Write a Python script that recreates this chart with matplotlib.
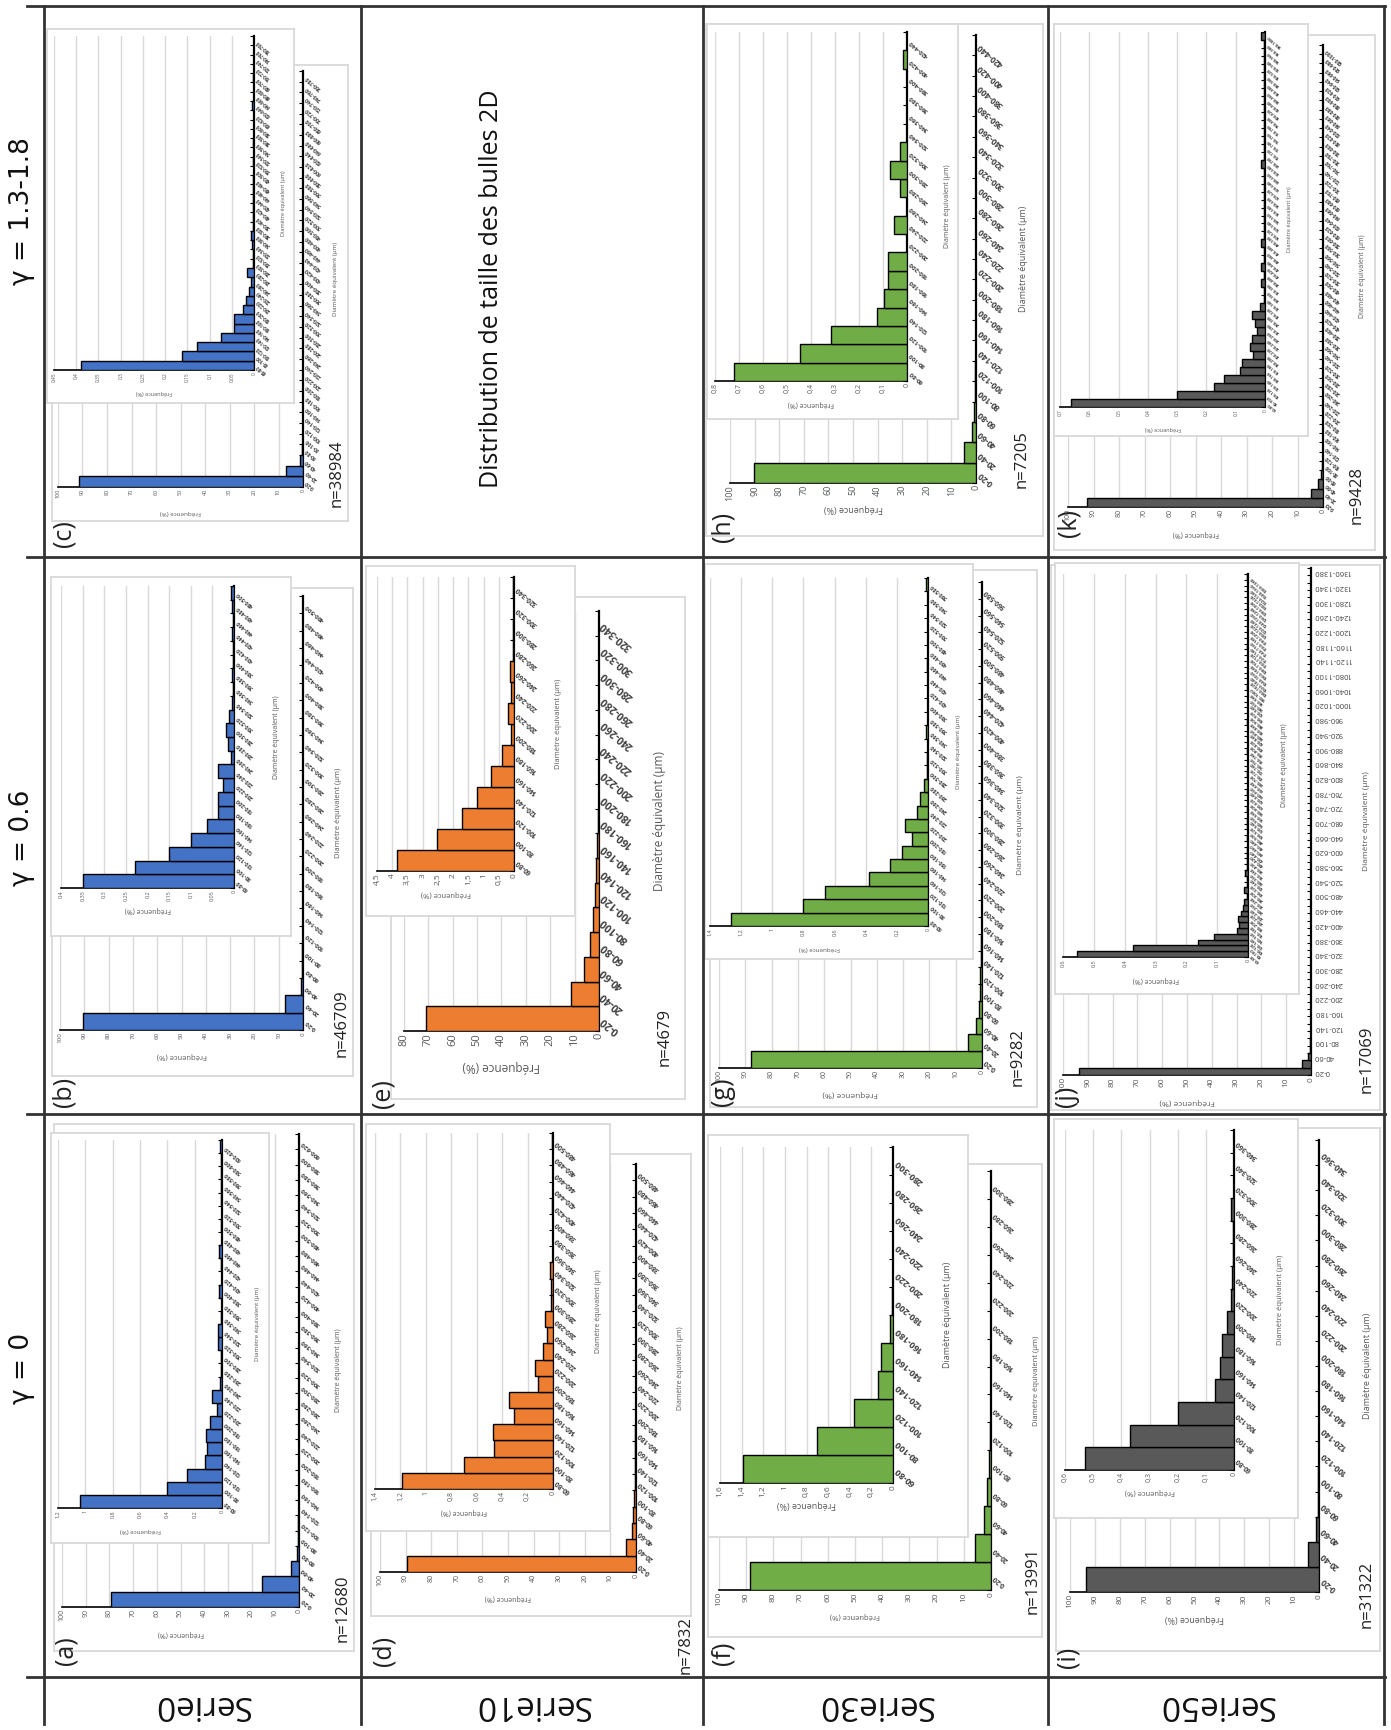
import numpy as np
import matplotlib
matplotlib.use('Agg')
import matplotlib.pyplot as plt
from matplotlib.lines import Line2D
from matplotlib.transforms import offset_copy

plt.rcParams['font.family'] = ['Open Sans', 'DejaVu Sans']

W, H = 1391, 1730

blue = '#4472C4'
orange = '#ED7D31'
green = '#70AD47'
grey = '#595959'


def bin_labels(n):
    return ['%d-%d' % (20 * i, 20 * i + 20) for i in range(n)]


# ---------------- data (frequency in %, bins of 20 µm starting at 0-20)
a_vals = [79.5, 15.6, 3.3, 1.04, 0.40, 0.256, 0.122, 0.11, 0.12, 0.085, 0.037, 0.073, 0.012, 0.006,
          0.004, 0.03, 0.03, 0.004, 0.003, 0.024, 0.003, 0.004, 0.022, 0.003, 0.004, 0.003, 0.005,
          0.004, 0.006, 0.005, 0.012]
b_vals = [90.5, 7.4, 1.0, 0.348, 0.228, 0.15, 0.10, 0.062, 0.036, 0.038, 0.025, 0.038, 0.008, 0.015,
          0.019, 0.012, 0.004, 0.002, 0.004, 0.002, 0.002, 0.004, 0.002, 0.004, 0.008]
c_vals = [91.4, 6.8, 1.1, 0.39, 0.163, 0.128, 0.075, 0.045, 0.045, 0.025, 0.017, 0.011, 0.0075, 0.015,
          0.002, 0.002, 0.005, 0.0075, 0.003, 0.003, 0.002, 0.003, 0.002, 0.002, 0.001, 0.002, 0.001,
          0.002, 0.001, 0.001, 0.001, 0.005, 0.001, 0.001, 0.002, 0.001, 0.001, 0.001, 0.001]
d_vals = [89.3, 3.9, 1.7, 1.19, 0.70, 0.465, 0.47, 0.31, 0.35, 0.12, 0.145, 0.08, 0.05, 0.065, 0.015,
          0.015, 0.025, 0.002, 0.002, 0.002, 0.008, 0.002, 0.002, 0.002, 0.004]
e_vals = [71.0, 11.3, 6.2, 3.85, 2.54, 1.72, 1.23, 0.76, 0.41, 0.09, 0.2, 0.09, 0.13, 0.03, 0.02,
          0.01, 0.02]
f_vals = [88.5, 5.9, 2.5, 1.39, 0.70, 0.36, 0.136, 0.108, 0.03, 0.01, 0.004, 0.003, 0.003, 0.002,
          0.004]
g_vals = [87.8, 5.5, 2.3, 1.267, 0.80, 0.66, 0.38, 0.243, 0.166, 0.103, 0.147, 0.069, 0.05, 0.028,
          0.006, 0.004, 0.003, 0.015, 0.002, 0.002, 0.003, 0.002, 0.004, 0.002, 0.002, 0.003, 0.002,
          0.002, 0.01]
h_vals = [90.1, 4.8, 1.6, 0.72, 0.444, 0.317, 0.123, 0.095, 0.081, 0.081, 0.0, 0.053, 0.0, 0.028,
          0.07, 0.028, 0.0, 0.0, 0.0, 0.0, 0.017, 0.0]
i_vals = [93.6, 4.4, 1.4, 0.528, 0.368, 0.20, 0.068, 0.048, 0.042, 0.026, 0.012, 0.007, 0.002, 0.002,
          0.011, 0.001, 0.001, 0.001]
j_vals = [93.6, 3.8, 1.4,
          0.556, 0.373, 0.161, 0.11, 0.037, 0.03, 0.033, 0.022, 0.015, 0.013,
          0.004, 0.012, 0.003, 0.004, 0.011, 0.002, 0.003, 0.002, 0.002, 0.001,
          0.002, 0.001, 0.002, 0.002, 0.001, 0.002, 0.001, 0.001, 0.002, 0.001,
          0.001, 0.002, 0.001, 0.001, 0.001, 0.002, 0.001, 0.001, 0.001, 0.001,
          0.002, 0.001, 0.001, 0.001, 0.001, 0.001, 0.002, 0.001, 0.001, 0.001,
          0.001, 0.001, 0.001, 0.002, 0.001, 0.001, 0.001, 0.001, 0.001, 0.001,
          0.001, 0.001, 0.001, 0.001, 0.001, 0.002]
k_vals = [92.7, 4.6, 2.0,
          0.663, 0.30, 0.173, 0.141, 0.087, 0.078, 0.04, 0.052, 0.044, 0.029,
          0.035, 0.043, 0.017, 0.005, 0.004, 0.012, 0.003, 0.012, 0.002, 0.003,
          0.012, 0.002, 0.002, 0.003, 0.002, 0.002, 0.002, 0.002, 0.003, 0.002,
          0.012, 0.002, 0.002, 0.002, 0.002, 0.002, 0.002, 0.002, 0.002, 0.002,
          0.002, 0.002, 0.002, 0.002, 0.002, 0.002, 0.012]

n_counts = {'a': 'n=12680', 'b': 'n=46709', 'c': 'n=38984', 'd': 'n=7832', 'e': 'n=4679',
            'f': 'n=13991', 'g': 'n=9282', 'h': 'n=7205', 'i': 'n=31322', 'j': 'n=17069',
            'k': 'n=9428'}

series_names = ['Serie0', 'Serie10', 'Serie30', 'Serie50']
gamma_names = ['γ = 0', 'γ = 0.6', 'γ = 1.3-1.8']

# ---------------- layout (pixels, y from top)
# main_box, main_ax, ins_box, ins_ax, panel label pos, n label pos
layout = {
    'a': [(54, 1124, 354, 1651), (62, 1134, 299, 1607), (51, 1133, 269, 1543), (58, 1140, 222, 1508), (66, 1651), (343, 1608)],
    'b': [(52, 588, 353, 1076), (60, 596, 303, 1030), (51, 577, 291, 936), (61, 586, 234, 888), (64, 1092), (342, 1023)],
    'c': [(52, 65, 348, 521), (58, 71, 303, 487), (47, 29, 294, 403), (54, 36, 254, 370), (64, 534), (337, 473)],
    'd': [(371, 1154, 691, 1616), (380, 1164, 636, 1572), (366, 1124, 610, 1531), (375, 1133, 553, 1489), (384, 1651), (686, 1645)],
    'e': [(391, 597, 685, 1099), (404, 611, 599, 1031), (366, 566, 575, 916), (377, 577, 514, 871), (383, 1094), (665, 1037)],
    'f': [(708, 1164, 1042, 1637), (719, 1171, 991, 1590), (708, 1135, 968, 1537), (720, 1147, 893, 1483), (723, 1653), (1033, 1580)],
    'g': [(710, 570, 1037, 1107), (719, 582, 982, 1068), (705, 564, 973, 959), (710, 578, 928, 926), (723, 1092), (1018, 1057)],
    'h': [(706, 24, 1043, 536), (730, 35, 976, 483), (707, 24, 958, 419), (715, 32, 907, 381), (723, 527), (1022, 459)],
    'i': [(1056, 1128, 1380, 1651), (1070, 1140, 1319, 1592), (1054, 1119, 1298, 1518), (1065, 1130, 1234, 1470), (1068, 1657), (1367, 1594)],
    'j': [(1051, 565, 1380, 1110), (1063, 568, 1311, 1075), (1055, 563, 1299, 994), (1063, 574, 1248, 957), (1066, 1096), (1367, 1059)],
    'k': [(1054, 35, 1375, 550), (1068, 45, 1323, 507), (1054, 24, 1308, 436), (1060, 32, 1265, 407), (1069, 523), (1357, 495)],
}

# per panel: values, colour, inset max/step, fonts (tick, category, label) main / inset
panels = {
    'a': dict(vals=a_vals, color=blue, imax=1.2, istep=0.2, mf=(5, 4.5, 5), inf=(4, 4, 4.5), yoff=(40, 35)),
    'b': dict(vals=b_vals, color=blue, imax=0.4, istep=0.05, mf=(4.5, 4.5, 5.5), inf=(4, 4, 5), yoff=(36, 43)),
    'c': dict(vals=c_vals, color=blue, imax=0.45, istep=0.05, mf=(4, 3.8, 4.5), inf=(3.5, 3.3, 4), yoff=(33, 30)),
    'd': dict(vals=d_vals, color=orange, imax=1.4, istep=0.2, mf=(5, 5, 5), inf=(5, 5, 5), yoff=(45, 45)),
    'e': dict(vals=e_vals, color=orange, imax=4.5, istep=0.5, mf=(8, 7.5, 8.5), inf=(6, 5, 5.5), yoff=(61, 44)),
    'f': dict(vals=f_vals, color=green, imax=1.6, istep=0.2, mf=(6, 5, 5.5), inf=(6, 6.5, 6.5), yoff=(46, 55)),
    'g': dict(vals=g_vals, color=green, imax=1.4, istep=0.2, mf=(5, 5, 6), inf=(4, 4, 4.5), yoff=(39, 31)),
    'h': dict(vals=h_vals, color=green, imax=0.8, istep=0.1, mf=(6.5, 6, 6.5), inf=(5, 4.5, 5), yoff=(48, 41)),
    'i': dict(vals=i_vals, color=grey, imax=0.6, istep=0.1, mf=(6, 6, 6.5), inf=(5, 5, 5.5), yoff=(48, 47)),
    'j': dict(vals=j_vals, color=grey, imax=0.6, istep=0.1, mf=(6, 5.5, 6), inf=(4, 3.2, 5), yoff=(56, 36)),
    'k': dict(vals=k_vals, color=grey, imax=0.7, istep=0.1, mf=(5, 3.6, 5), inf=(3.5, 3.0, 4), yoff=(40, 24)),
}


def px_axes(fig, x0, y0, x1, y1):
    return fig.add_axes([x0 / W, 1 - y1 / H, (x1 - x0) / W, (y1 - y0) / H])


def fmt(v):
    s = ('%.2f' % v).rstrip('0').rstrip('.')
    return s.replace('.', ',')


def frame_box(fig, rect):
    b = px_axes(fig, *rect)
    b.set_xticks([])
    b.set_yticks([])
    for s in b.spines.values():
        s.set_color('#d9d9d9')
        s.set_linewidth(1.3)
    return b


def bar_chart(fig, rect, vals, cats, color, vmax, step, fonts, ylab_off, xlab_off,
              cat_rot=140, cat_every=1, cat_bold=True):
    tick_fs, cat_fs, lab_fs = fonts
    ax = px_axes(fig, *rect)
    n = len(vals)
    pos = np.arange(n)
    ax.barh(pos, vals, height=1.0, color=color, edgecolor='black', linewidth=1.0, zorder=3)
    ax.set_xlim(vmax, 0)
    ax.set_ylim(-0.5, n - 0.5)
    ticks = np.arange(0, vmax + step * 0.5, step)
    ax.set_xticks(ticks)
    ax.set_xticklabels([fmt(t) for t in ticks], rotation=90, fontsize=tick_fs, color='#595959')
    ax.tick_params(axis='x', length=0, pad=1.5)
    ax.xaxis.grid(True, color='#d9d9d9', linewidth=1.0)
    ax.set_axisbelow(True)

    ax.yaxis.tick_right()
    ax.set_yticks(pos[::cat_every])
    ax.set_yticklabels(cats[::cat_every], fontsize=cat_fs, rotation=cat_rot, rotation_mode='anchor',
                       ha='right', va='center', color='#404040',
                       fontweight='bold' if cat_bold else 'normal')
    ax.set_yticks(np.arange(n + 1) - 0.5, minor=True)
    ax.tick_params(axis='y', which='major', length=0, pad=2)
    ax.tick_params(axis='y', which='minor', direction='in', length=3, width=0.8, color='black')

    ax.spines['left'].set_visible(False)
    ax.spines['top'].set_visible(False)
    ax.spines['right'].set_linewidth(1.6)
    ax.spines['bottom'].set_linewidth(1.2)

    t1 = offset_copy(ax.transAxes, fig=fig, x=0, y=-xlab_off, units='dots')
    ax.text(0.5, 0, 'Fréquence (%)', transform=t1, rotation=180, ha='center', va='center',
            fontsize=lab_fs, color='#595959')
    t2 = offset_copy(ax.transAxes, fig=fig, x=ylab_off, y=0, units='dots')
    ax.text(1, 0.5, 'Diamètre équivalent (µm)', transform=t2, rotation=90, ha='center',
            va='center', fontsize=lab_fs, color='#595959')
    return ax


fig = plt.figure(figsize=(W / 100, H / 100), dpi=100)

for key, p in panels.items():
    main_box, main_ax, ins_box, ins_ax, lab_xy, n_xy = layout[key]
    vals = p['vals']
    cats = bin_labels(len(vals))
    is_j = key == 'j'

    frame_box(fig, main_box)
    bar_chart(fig, main_ax, vals, cats, p['color'], 80 if key == 'e' else 100,
              10, p['mf'], p['yoff'][0], 36 if key == 'e' else 26,
              cat_rot=180 if is_j else 140, cat_every=2 if is_j else 1, cat_bold=not is_j)
    frame_box(fig, ins_box)
    bar_chart(fig, ins_ax, vals[3:], cats[3:], p['color'], p['imax'], p['istep'], p['inf'],
              p['yoff'][1], 22)

    fig.text(lab_xy[0] / W, 1 - lab_xy[1] / H, '(%s)' % key, rotation=90, ha='center',
             va='center', fontsize=18, color='#222222')
    fig.text(n_xy[0] / W, 1 - n_xy[1] / H, n_counts[key], rotation=90, ha='center',
             va='center', fontsize=12, color='#222222')

# title cell
fig.text(491 / W, 1 - 289 / H, 'Distribution de taille des bulles 2D', rotation=90,
         ha='center', va='center', fontsize=18, color='#111111')

# row / column headers
for name, yc in zip(gamma_names, [1368, 838, 211]):
    fig.text(22 / W, 1 - yc / H, name, rotation=90, ha='center', va='center', fontsize=19,
             color='#111111', family=['DejaVu Sans'])
for name, xc in zip(series_names, [202, 532, 875, 1216]):
    fig.text(xc / W, 1 - 1704 / H, name, rotation=180, ha='center', va='center', fontsize=24,
             color='#111111')

# table lines
line_kw = dict(transform=fig.transFigure, color='#333333', linewidth=2)
for y in [6, 557, 1114, 1677]:
    fig.add_artist(Line2D([27 / W, 1385 / W], [1 - y / H, 1 - y / H], **line_kw))
for x in [44, 361, 703, 1048, 1384]:
    fig.add_artist(Line2D([x / W, x / W], [1 - 6 / H, 1 - 1724 / H], **line_kw))

fig.savefig('out.png', dpi=100)
